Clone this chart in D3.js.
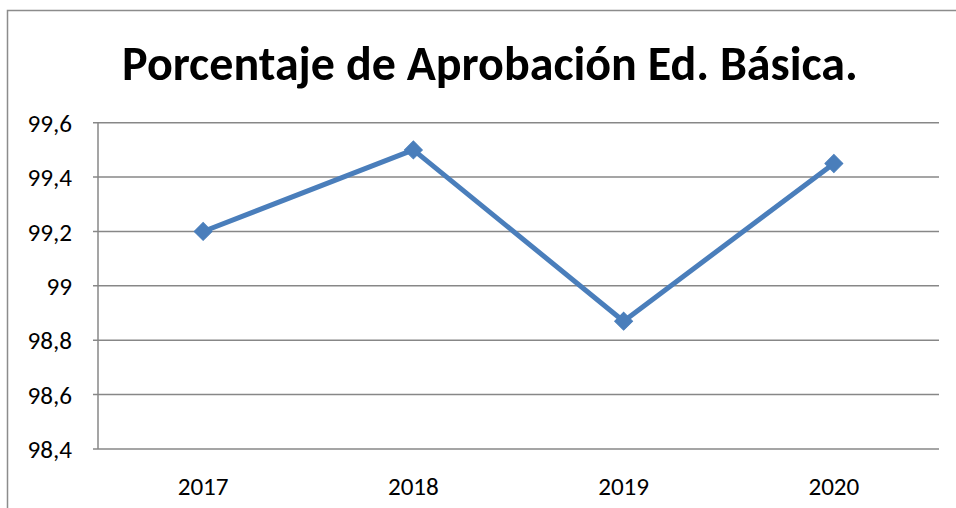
<!DOCTYPE html>
<html><head><meta charset="utf-8">
<script src="https://cdn.jsdelivr.net/npm/d3@7"></script>
<style>
html,body{margin:0;padding:0;background:#fff;}
svg{display:block;}
</style></head>
<body>
<svg id="c" width="956" height="508"></svg>
<script>
const title = "Porcentaje de Aprobación Ed. Básica.";
const categories = ["2017", "2018", "2019", "2020"];
const values = [99.2, 99.5, 98.87, 99.45];
const yTicks = [98.4, 98.6, 98.8, 99.0, 99.2, 99.4, 99.6];

const svg = d3.select("#c");
const font = "Carlito, Lato, 'Open Sans', sans-serif";
const m = {left: 98, right: 939, top: 122.7, bottom: 449};

// outer frame
svg.append("rect").attr("x", 7.5).attr("y", 10.5).attr("width", 1000).attr("height", 600)
  .attr("fill", "none").attr("stroke", "#8c8c8c").attr("stroke-width", 1.5);

const x = d3.scaleBand().domain(categories).range([m.left, m.right]);
const y = d3.scaleLinear().domain([98.4, 99.6]).range([m.bottom, m.top]);

// measure label font size so "2017" is ~52px wide
const probe = svg.append("text").attr("font-family", font).attr("font-size", 20).text("2017");
const labelSize = 20 * 51 / probe.node().getComputedTextLength();
probe.remove();

// gridlines
svg.append("g").selectAll("line").data(yTicks).join("line")
  .attr("x1", m.left - 5).attr("x2", m.right)
  .attr("y1", d => y(d)).attr("y2", d => y(d))
  .attr("stroke", "#878787").attr("stroke-width", 1.5);

// vertical axis line
svg.append("line").attr("x1", m.left).attr("x2", m.left)
  .attr("y1", m.top).attr("y2", m.bottom)
  .attr("stroke", "#878787").attr("stroke-width", 1.5);

// y labels
const fmt = d => d3.format(".1~f")(d).replace(".", ",");
svg.append("g").selectAll("text").data(yTicks).join("text")
  .attr("x", 72).attr("y", d => y(d)).attr("dy", "0.36em")
  .attr("text-anchor", "end").attr("font-family", font).attr("font-size", labelSize)
  .attr("fill", "#000").text(fmt);

// x labels
svg.append("g").selectAll("text").data(categories).join("text")
  .attr("x", d => x(d) + x.bandwidth() / 2).attr("y", 495)
  .attr("text-anchor", "middle").attr("font-family", font).attr("font-size", labelSize)
  .attr("fill", "#000").text(d => d);

// line
const line = d3.line().x((d, i) => x(categories[i]) + x.bandwidth() / 2).y(d => y(d));
svg.append("path").datum(values).attr("d", line)
  .attr("fill", "none").attr("stroke", "#4a7ebb").attr("stroke-width", 5)
  .attr("stroke-linejoin", "round");

// markers
svg.append("g").selectAll("path").data(values).join("path")
  .attr("transform", (d, i) => `translate(${x(categories[i]) + x.bandwidth() / 2},${y(d)}) rotate(45)`)
  .attr("d", d3.symbol().type(d3.symbolSquare).size(160))
  .attr("fill", "#4a7ebb").attr("stroke", "#4a7ebb").attr("stroke-width", 1);

// title
const t = svg.append("text").attr("x", 490).attr("y", 80)
  .attr("text-anchor", "middle").attr("font-family", font).attr("font-weight", "bold")
  .attr("font-size", 44).attr("fill", "#000").text(title);
const tw = t.node().getComputedTextLength();
t.attr("font-size", 44 * 736 / tw);
</script>
</body></html>
